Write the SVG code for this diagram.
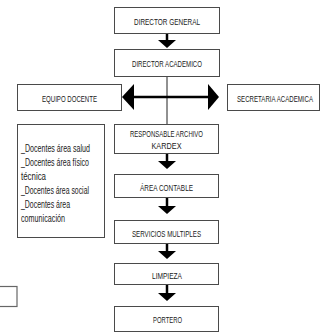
<svg xmlns="http://www.w3.org/2000/svg" width="322" height="332" viewBox="0 0 322 332">
  <style>
    .box { fill: #ffffff; stroke: #4a4a4a; stroke-width: 1; }
    .lbl { font-family: "Liberation Sans", Arial, sans-serif; font-size: 9.5px; fill: #1a1a1a; text-anchor: middle; }
    .note { font-family: "Liberation Sans", Arial, sans-serif; font-size: 10px; fill: #1a1a1a; }
    .stem { stroke: #000000; stroke-width: 2.5; fill: none; }
    .thin { stroke: #222222; stroke-width: 1; fill: none; }
    .head { fill: #000000; }
  </style>
  <rect width="322" height="332" fill="#ffffff"/>

  <g id="connectors">
    <!-- trunk from the academic director down to the archive -->
    <line class="thin" x1="167" y1="76" x2="167" y2="124"/>
    <!-- two-headed link between the side boxes -->
    <line class="stem" x1="130" y1="97" x2="212" y2="97"/>
    <polygon class="head" points="122,97 134,84 134,110"/>
    <polygon class="head" points="219,97 208,84 208,110"/>
    <!-- downward arrows -->
    <line class="stem" x1="167" y1="33" x2="167" y2="41"/>
    <polygon class="head" points="158,40 176,40 167,48"/>
    <line class="stem" x1="167" y1="153" x2="167" y2="162"/>
    <polygon class="head" points="158,161 176,161 167,169"/>
    <line class="stem" x1="167" y1="197" x2="167" y2="207"/>
    <polygon class="head" points="158,206 176,206 167,214"/>
    <line class="stem" x1="167" y1="243" x2="167" y2="252"/>
    <polygon class="head" points="158,251 176,251 167,259"/>
    <line class="stem" x1="167" y1="284" x2="167" y2="294"/>
    <polygon class="head" points="158,293 176,293 167,301"/>
  </g>

  <g id="director-general">
    <rect class="box" x="114.5" y="7.5" width="105" height="26"/>
    <text class="lbl" x="167" y="24.5" textLength="66" lengthAdjust="spacingAndGlyphs">DIRECTOR GENERAL</text>
  </g>

  <g id="director-academico">
    <rect class="box" x="114.5" y="49.5" width="105" height="27"/>
    <text class="lbl" x="167" y="66.5" textLength="70" lengthAdjust="spacingAndGlyphs">DIRECTOR ACADEMICO</text>
  </g>

  <g id="equipo-docente">
    <rect class="box" x="17.5" y="84.5" width="104" height="26"/>
    <text class="lbl" x="69.5" y="101.5" textLength="55" lengthAdjust="spacingAndGlyphs">EQUIPO DOCENTE</text>
  </g>

  <g id="secretaria-academica">
    <rect class="box" x="227.5" y="84.5" width="92" height="26"/>
    <text class="lbl" x="275" y="101.5" textLength="76" lengthAdjust="spacingAndGlyphs">SECRETARIA ACADEMICA</text>
  </g>

  <g id="docentes-areas">
    <rect class="box" x="17.5" y="124.5" width="87" height="113"/>
    <text class="note" x="21" y="152" textLength="69" lengthAdjust="spacingAndGlyphs">_Docentes área salud</text>
    <text class="note" x="21" y="166" textLength="68" lengthAdjust="spacingAndGlyphs">_Docentes área físico</text>
    <text class="note" x="21" y="180" textLength="25" lengthAdjust="spacingAndGlyphs">técnica</text>
    <text class="note" x="21" y="194" textLength="68" lengthAdjust="spacingAndGlyphs">_Docentes área social</text>
    <text class="note" x="21" y="208" textLength="49" lengthAdjust="spacingAndGlyphs">_Docentes área</text>
    <text class="note" x="21" y="222" textLength="44" lengthAdjust="spacingAndGlyphs">comunicación</text>
  </g>

  <g id="responsable-archivo">
    <rect class="box" x="114.5" y="124.5" width="104" height="29"/>
    <text class="lbl" x="166.5" y="136.5" textLength="73" lengthAdjust="spacingAndGlyphs">RESPONSABLE ARCHIVO</text>
    <text class="lbl" x="166.5" y="148.5" textLength="30" lengthAdjust="spacingAndGlyphs">KARDEX</text>
  </g>

  <g id="area-contable">
    <rect class="box" x="114.5" y="174.5" width="104" height="23"/>
    <text class="lbl" x="166.5" y="190.5" font-size="11.5" textLength="53" lengthAdjust="spacingAndGlyphs">ÁREA CONTABLE</text>
  </g>

  <g id="servicios-multiples">
    <rect class="box" x="114.5" y="220.5" width="104" height="23"/>
    <text class="lbl" x="166.5" y="236.5" textLength="69" lengthAdjust="spacingAndGlyphs">SERVICIOS MULTIPLES</text>
  </g>

  <g id="limpieza">
    <rect class="box" x="114.5" y="263.5" width="104" height="21"/>
    <text class="lbl" x="167" y="278.5" textLength="30" lengthAdjust="spacingAndGlyphs">LIMPIEZA</text>
  </g>

  <g id="portero">
    <rect class="box" x="114.5" y="306.5" width="104" height="25"/>
    <text class="lbl" x="167.5" y="322.5" textLength="29" lengthAdjust="spacingAndGlyphs">PORTERO</text>
  </g>

  <g id="edge-box">
    <rect x="-2" y="286.5" width="19" height="20" fill="#ffffff" stroke="#666666" stroke-width="1.2"/>
  </g>
</svg>
